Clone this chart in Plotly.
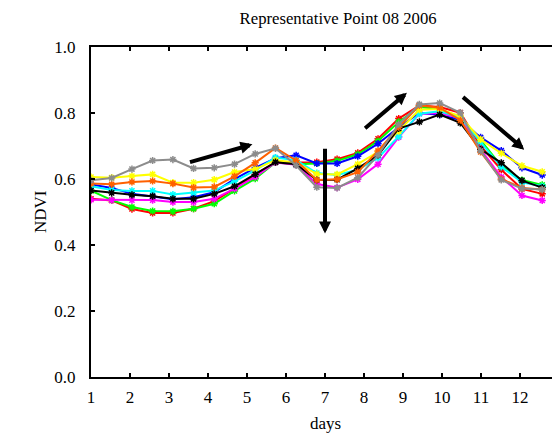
import plotly.graph_objects as go

days = [1.00, 1.53, 2.05, 2.58, 3.10, 3.63, 4.16, 4.68, 5.21, 5.73, 6.26, 6.79,
        7.31, 7.84, 8.36, 8.89, 9.42, 9.94, 10.47, 10.99, 11.52, 12.05, 12.57]

gray = [0.596, 0.603, 0.630, 0.656, 0.659, 0.632, 0.634, 0.645, 0.676, 0.693, 0.641, 0.575,
        0.573, 0.604, 0.672, 0.766, 0.826, 0.830, 0.801, 0.685, 0.597, 0.571, 0.568]
yellow = [0.606, 0.604, 0.609, 0.614, 0.589, 0.589, 0.598, 0.621, 0.630, 0.657, 0.650, 0.615,
          0.614, 0.645, 0.682, 0.745, 0.810, 0.812, 0.790, 0.720, 0.678, 0.640, 0.622]
orange = [0.586, 0.584, 0.591, 0.594, 0.586, 0.574, 0.576, 0.608, 0.649, 0.694, 0.656, 0.597,
          0.599, 0.621, 0.685, 0.757, 0.823, 0.816, 0.778, 0.682, 0.600, 0.573, 0.568]
blue = [0.583, 0.573, 0.555, 0.548, 0.539, 0.545, 0.560, 0.600, 0.634, 0.663, 0.672, 0.647,
        0.647, 0.669, 0.707, 0.757, 0.800, 0.795, 0.779, 0.726, 0.686, 0.634, 0.612]
cyan = [0.578, 0.567, 0.564, 0.564, 0.553, 0.558, 0.565, 0.593, 0.626, 0.665, 0.657, 0.618,
        0.612, 0.628, 0.664, 0.729, 0.798, 0.805, 0.786, 0.712, 0.637, 0.590, 0.578]
black = [0.565, 0.558, 0.552, 0.548, 0.540, 0.540, 0.555, 0.578, 0.614, 0.651, 0.645, 0.597,
         0.598, 0.632, 0.672, 0.753, 0.773, 0.795, 0.770, 0.690, 0.649, 0.595, 0.574]
magenta = [0.537, 0.536, 0.536, 0.536, 0.530, 0.530, 0.540, 0.571, 0.606, 0.650, 0.643, 0.585,
           0.574, 0.599, 0.645, 0.727, 0.798, 0.800, 0.785, 0.690, 0.606, 0.550, 0.535]
green = [0.565, 0.536, 0.515, 0.503, 0.502, 0.510, 0.525, 0.564, 0.601, 0.650, 0.645, 0.647,
         0.655, 0.675, 0.715, 0.773, 0.818, 0.812, 0.786, 0.718, 0.640, 0.597, 0.582]
red = [0.540, 0.535, 0.509, 0.497, 0.497, 0.510, 0.533, 0.571, 0.614, 0.651, 0.650, 0.651,
       0.660, 0.679, 0.722, 0.783, 0.823, 0.818, 0.801, 0.700, 0.628, 0.570, 0.555]

series = [
    ("red", red, "#ff0000"),
    ("green", green, "#00ff00"),
    ("blue", blue, "#0000ff"),
    ("magenta", magenta, "#ff00ff"),
    ("cyan", cyan, "#00ffff"),
    ("yellow", yellow, "#ffff00"),
    ("black", black, "#000000"),
    ("orange", orange, "#ff6000"),
    ("gray", gray, "#8c8c8c"),
]

x_ticks = list(range(1, 13))
y_ticks = [0.0, 0.2, 0.4, 0.6, 0.8, 1.0]

# arrows: (tail_x, tail_y, head_x, head_y)
arrows = [
    (3.50, 0.650, 5.14, 0.705),
    (7.00, 0.696, 7.00, 0.435),
    (7.99, 0.750, 9.10, 0.861),
    (10.50, 0.852, 12.11, 0.689),
]

fig = go.Figure()
for name, vals, col in series:
    fig.add_trace(go.Scatter(
        x=days, y=vals, mode="lines+markers", name=name,
        line=dict(color=col, width=2),
        marker=dict(symbol="asterisk-open", size=6, color=col,
                    line=dict(color=col, width=1.5)),
        showlegend=False,
    ))

for tx, ty, hx, hy in arrows:
    fig.add_annotation(x=hx, y=hy, ax=tx, ay=ty, xref="x", yref="y",
                       axref="x", ayref="y", showarrow=True, text="",
                       arrowhead=2, arrowsize=0.6, arrowwidth=4,
                       arrowcolor="black")

font = "Liberation Serif, Times New Roman, serif"
fs = 17
W, H = 552, 431
fig.add_annotation(text="days", xref="paper", yref="paper", x=0.5, y=-46/330,
                   xanchor="center", yanchor="middle", showarrow=False,
                   font=dict(family=font, size=fs, color="black"))
fig.add_annotation(text="NDVI", xref="paper", yref="paper", x=-51/468, y=0.5,
                   xanchor="center", yanchor="middle", showarrow=False, textangle=-90,
                   font=dict(family=font, size=fs, color="black"))

fig.update_layout(
    width=W, height=H,
    margin=dict(l=83, r=1, t=39, b=62),
    paper_bgcolor="white", plot_bgcolor="white",
    font=dict(family=font, size=fs, color="black"),
    title=dict(text="Representative Point 08 2006", x=0.528, xref="paper",
               xanchor="center", y=1 - 10/H, yref="container", yanchor="middle",
               font=dict(family=font, size=16.7, color="black")),
)
fig.update_xaxes(range=[1, 13], tickvals=x_ticks, ticks="inside", ticklen=4,
                 tickwidth=2, tickcolor="black", showline=True, linewidth=2,
                 linecolor="black", mirror="ticks", showgrid=False, zeroline=False,
                 automargin=False, ticklabelstandoff=4,
                 tickfont=dict(size=fs))
fig.update_yaxes(range=[0, 1], tickvals=y_ticks, tickformat=".1f", ticks="inside",
                 ticklen=4, tickwidth=2, tickcolor="black", showline=True,
                 linewidth=2, linecolor="black", mirror="ticks", showgrid=False,
                 zeroline=False, automargin=False, ticklabelstandoff=10,
                 tickfont=dict(size=fs))

fig.write_html("out.html")
